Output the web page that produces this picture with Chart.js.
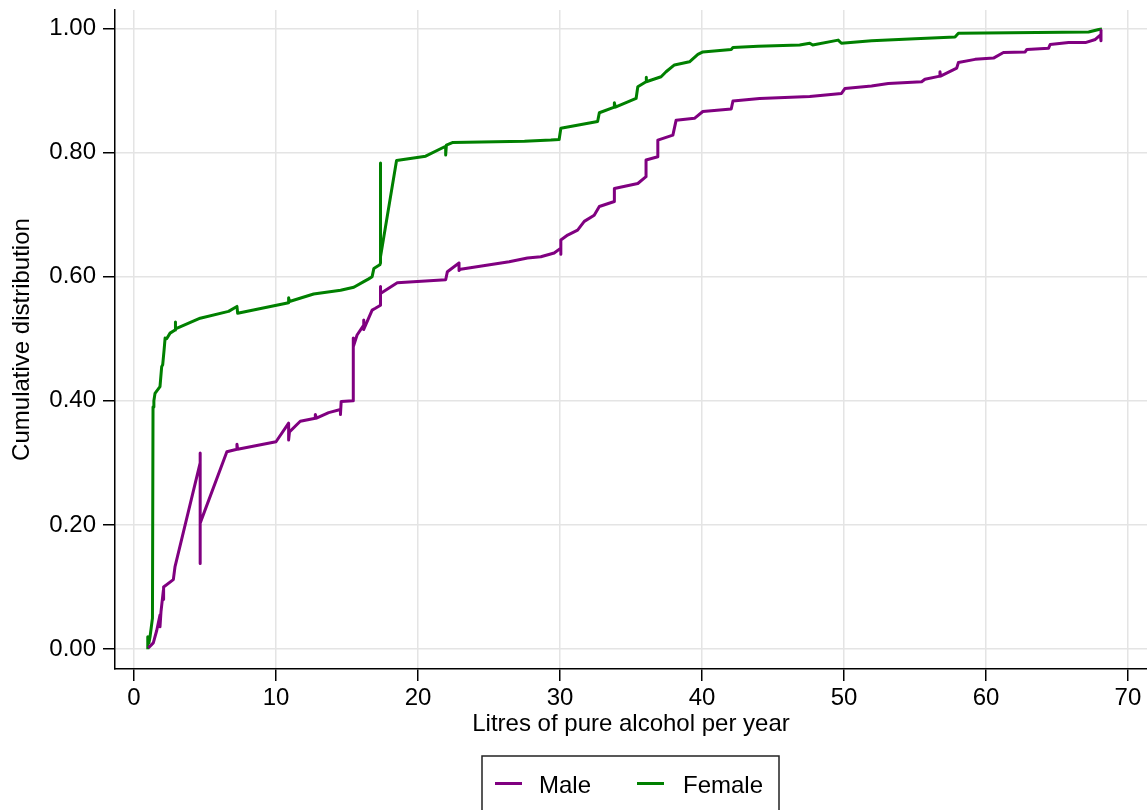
<!DOCTYPE html>
<html>
<head>
<meta charset="utf-8">
<script src="https://cdn.jsdelivr.net/npm/chart.js@4.4.1/dist/chart.umd.min.js"></script>
<style>
  html, body { margin: 0; padding: 0; background: #ffffff; }
  #wrap { width: 1147px; height: 810px; }
</style>
</head>
<body>
<div id="wrap"><canvas id="c" width="1147" height="810"></canvas></div>
<script>
// ---- data ----
const seriesNames = ["Male", "Female"];

const maleX = [1.01,1.36,1.6,1.83,1.83,1.9,2.07,2.07,2.1,2.77,2.89,4.66,4.66,4.66,4.66,6.54,7.25,7.25,7.3,10.0,10.89,10.89,10.95,11.71,12.77,12.77,12.85,13.71,14.54,14.54,14.59,15.43,15.43,15.43,15.47,15.71,16.18,16.18,16.18,16.77,17.0,17.36,17.36,17.36,18.54,21.95,22.07,22.89,22.89,23.0,26.42,27.71,28.65,29.59,30.06,30.06,30.06,30.54,31.24,31.71,32.41,32.77,33.83,33.83,35.48,36.06,36.06,36.89,36.89,37.95,38.18,39.47,40.06,42.06,42.18,44.06,47.59,49.82,50.06,51.94,53.12,55.47,55.70,56.76,56.76,56.8,57.94,58.06,59.23,60.53,61.23,62.76,62.88,64.41,64.52,65.82,67.0,67.7,68.05,68.1,68.1];
const maleY = [0.002,0.010,0.030,0.055,0.036,0.060,0.095,0.080,0.100,0.112,0.133,0.300,0.316,0.138,0.203,0.318,0.322,0.330,0.322,0.334,0.364,0.337,0.350,0.367,0.372,0.378,0.372,0.381,0.386,0.378,0.399,0.400,0.487,0.501,0.487,0.506,0.522,0.530,0.515,0.546,0.549,0.554,0.584,0.573,0.590,0.595,0.608,0.622,0.610,0.612,0.624,0.630,0.632,0.638,0.646,0.636,0.659,0.667,0.675,0.689,0.699,0.713,0.721,0.742,0.750,0.761,0.788,0.793,0.820,0.828,0.852,0.855,0.866,0.870,0.883,0.887,0.890,0.895,0.903,0.907,0.911,0.914,0.918,0.923,0.930,0.923,0.936,0.945,0.950,0.952,0.961,0.962,0.966,0.968,0.974,0.977,0.977,0.982,0.989,0.997,0.980];

const femaleX = [0.97,0.97,1.05,1.13,1.30,1.34,1.40,1.48,1.83,1.95,2.02,2.12,2.19,2.30,2.54,2.89,2.89,2.95,4.66,6.66,7.25,7.30,10.89,10.89,10.95,12.65,14.55,15.48,16.18,16.50,16.77,16.89,17.31,17.36,17.36,17.36,18.49,20.54,21.95,21.95,22.00,22.42,27.50,29.36,29.94,30.06,32.65,32.77,33.83,33.83,33.90,35.36,35.48,36.06,36.06,36.10,37.12,37.47,38.06,39.12,39.71,40.06,42.06,42.18,43.95,46.88,47.59,47.80,49.59,49.82,51.94,55.00,57.82,58.06,67.23,67.94,68.17];
const femaleY = [0.000,0.020,0.010,0.020,0.050,0.390,0.400,0.412,0.423,0.455,0.458,0.482,0.501,0.500,0.509,0.514,0.527,0.516,0.533,0.544,0.552,0.541,0.558,0.566,0.560,0.572,0.578,0.583,0.592,0.596,0.600,0.613,0.619,0.622,0.783,0.632,0.787,0.794,0.810,0.796,0.812,0.816,0.818,0.820,0.821,0.839,0.850,0.864,0.873,0.880,0.873,0.887,0.906,0.914,0.921,0.914,0.922,0.930,0.941,0.946,0.958,0.962,0.966,0.969,0.971,0.973,0.976,0.973,0.981,0.976,0.980,0.983,0.986,0.992,0.994,0.998,0.999];

const xTicks = [0, 10, 20, 30, 40, 50, 60, 70];
const yTicks = [0, 0.2, 0.4, 0.6, 0.8, 1.0];
const xTitle = "Litres of pure alcohol per year";
const yTitle = "Cumulative distribution";
const colors = ["#800080", "#008000"];

// ---- build ----
const toPts = (xs, ys) => xs.map((x, i) => ({ x: x, y: ys[i] }));

Chart.defaults.font.family = "'Liberation Sans', Arial, Helvetica, sans-serif";
Chart.defaults.color = "#000";

const boxedLegend = {
  id: "boxedLegend",
  afterDraw(chart) {
    const ctx = chart.ctx;
    ctx.save();
    ctx.strokeStyle = "#222";
    ctx.lineWidth = 1.5;
    ctx.strokeRect(482, 756, 297, 70);
    const items = [
      { lx: 495, tx: 539 },
      { lx: 637, tx: 683 }
    ];
    ctx.font = "24px 'Liberation Sans', Arial, sans-serif";
    ctx.textBaseline = "middle";
    chart.data.datasets.forEach((ds, i) => {
      const it = items[i];
      ctx.strokeStyle = ds.borderColor;
      ctx.lineWidth = 3;
      ctx.beginPath();
      ctx.moveTo(it.lx, 783.5);
      ctx.lineTo(it.lx + 27, 783.5);
      ctx.stroke();
      ctx.fillStyle = "#000";
      ctx.fillText(ds.label, it.tx, 786);
    });
    ctx.restore();
  }
};

new Chart(document.getElementById("c"), {
  type: "scatter",
  data: {
    datasets: [
      { label: seriesNames[0], data: toPts(maleX, maleY), borderColor: colors[0], backgroundColor: colors[0] },
      { label: seriesNames[1], data: toPts(femaleX, femaleY), borderColor: colors[1], backgroundColor: colors[1] }
    ].map(d => Object.assign(d, { showLine: true, pointRadius: 0, borderWidth: 3, tension: 0, borderJoinStyle: "round", borderCapStyle: "butt" }))
  },
  options: {
    responsive: false,
    devicePixelRatio: 1,
    animation: false,
    layout: { padding: { top: 10, right: 0, bottom: 0, left: 0 } },
    plugins: { legend: { display: false }, tooltip: { enabled: false } },
    scales: {
      x: {
        type: "linear",
        min: -1.338,
        max: 71.34,
        afterBuildTicks: s => { s.ticks = xTicks.map(v => ({ value: v })); },
        afterFit: s => { s.height = 141; s.paddingLeft = 0; s.paddingRight = 0; },
        ticks: { font: { size: 24 }, color: "#000", padding: 3, maxRotation: 0 },
        grid: { color: "#e4e4e4", lineWidth: 1.5, tickColor: "#000", tickLength: 12, tickWidth: 1.5 },
        border: { color: "#000", width: 1.5 },
        title: { display: true, text: xTitle, font: { size: 24 }, color: "#000", padding: { top: 0, bottom: 71 } }
      },
      y: {
        type: "linear",
        min: -0.032,
        max: 1.0295,
        afterBuildTicks: s => { s.ticks = yTicks.map(v => ({ value: v })); },
        afterFit: s => { s.width = 115; s.paddingTop = 0; s.paddingBottom = 0; },
        ticks: { font: { size: 24 }, color: "#000", padding: 7, callback: v => Number(v).toFixed(2) },
        grid: { color: "#e4e4e4", lineWidth: 1.5, tickColor: "#000", tickLength: 12, tickWidth: 1.5 },
        border: { color: "#000", width: 1.5 },
        title: { display: true, text: yTitle, font: { size: 24 }, color: "#000", padding: { top: 8, bottom: 0 } }
      }
    }
  },
  plugins: [boxedLegend]
});
</script>
</body>
</html>
